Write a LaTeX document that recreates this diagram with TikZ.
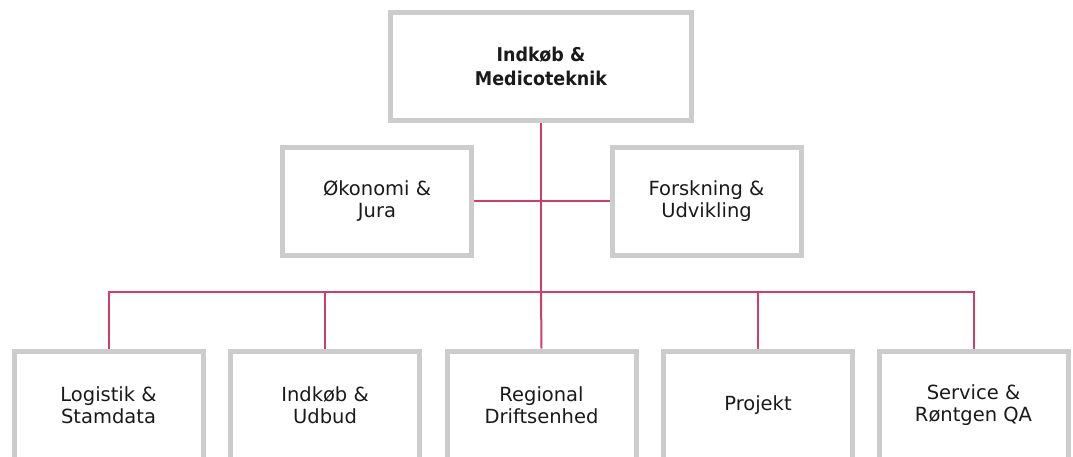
\documentclass[tikz,border=0pt]{standalone}
\usepackage{fontspec}
\setmainfont{DejaVu Sans}
\newfontfamily\headfont{DejaVu Sans}[FakeStretch=0.92]
\definecolor{boxgray}{RGB}{204,204,204}
\definecolor{linkred}{RGB}{206,62,104}
\definecolor{ink}{RGB}{26,26,26}
\pgfdeclarelayer{background}
\pgfsetlayers{background,main}
\begin{document}
\begin{tikzpicture}[x=1pt,y=-1pt,
  unit/.style={draw=boxgray, line width=5pt, fill=white, text=ink,
    align=center, inner sep=0pt, minimum width=189pt, minimum height=108pt,
    font=\fontsize{19.5}{22}\selectfont},
  headunit/.style={unit, minimum width=301pt,
    font=\headfont\fontsize{19}{24}\selectfont\bfseries},
  link/.style={draw=linkred, line width=2pt}]
\useasboundingbox (0,0) rectangle (1073,457);
\clip (0,0) rectangle (1073,457);
\coordinate (bus) at (541,292);
% units
\node[headunit] (top) at (541,66.5) {Indkøb \&\\Medicoteknik};
\node[unit] (oek) at (377,201.5) {Økonomi \&\\Jura};
\node[unit] (fou) at (706.5,201.5) {Forskning \&\\Udvikling};
\node[unit] (b1) at (108.5,405) {Logistik \&\\Stamdata};
\node[unit] (b2) at (325,405) {Indkøb \&\\Udbud};
\node[unit] (b3) at (541.5,405) {Regional\\Driftsenhed};
\node[unit] (b4) at (758,405) {Projekt};
\node[unit] (b5) at (973.5,405) {Service \&\\Røntgen QA};
% connectors, kept behind the boxes
\begin{pgfonlayer}{background}
\draw[link] (top.south) -- (bus);
\draw[link] (oek.east) -- (fou.west);
\draw[link] (b1.north) -- (b1.north |- bus) -- (b5.north |- bus) -- (b5.north);
\draw[link] (b2.north) -- (b2.north |- bus);
\draw[link] (b3.north) -- (bus);
\draw[link] (b4.north) -- (b4.north |- bus);
\end{pgfonlayer}
\end{tikzpicture}
\end{document}
